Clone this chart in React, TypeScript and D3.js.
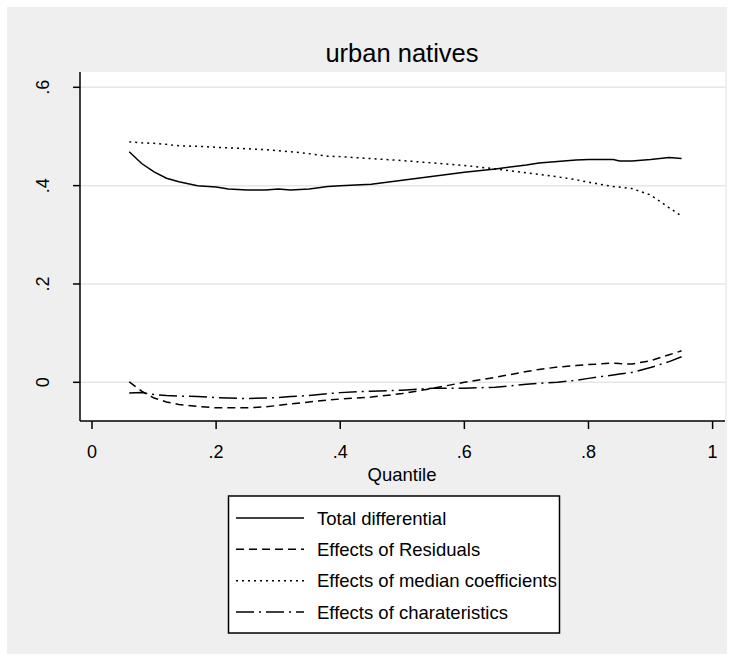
import React, { useRef, useEffect } from "react";
import * as d3 from "d3";

const quantiles = [
  0.06, 0.08, 0.1, 0.12, 0.14, 0.17, 0.2, 0.22, 0.25, 0.28, 0.3, 0.32, 0.35, 0.38, 0.4, 0.45,
  0.5, 0.55, 0.6, 0.65, 0.7, 0.72, 0.75, 0.78, 0.8, 0.84, 0.85, 0.87, 0.9, 0.93, 0.95,
];

const totalDiff = [
  0.469, 0.445, 0.428, 0.415, 0.408, 0.4, 0.397, 0.393, 0.391, 0.391, 0.393, 0.391, 0.393, 0.398,
  0.4, 0.403, 0.411, 0.419, 0.427, 0.434, 0.442, 0.446, 0.449, 0.452, 0.453, 0.453, 0.45, 0.45,
  0.453, 0.457, 0.455,
];

const residuals = [
  0.001, -0.018, -0.032, -0.04, -0.045, -0.049, -0.052, -0.052, -0.052, -0.05, -0.047, -0.044,
  -0.04, -0.036, -0.034, -0.03, -0.023, -0.012, 0.0, 0.01, 0.022, 0.026, 0.031, 0.034, 0.036,
  0.039, 0.038, 0.037, 0.044, 0.056, 0.064,
];

const medianCoef = [
  0.489, 0.487, 0.486, 0.484, 0.481, 0.48, 0.478, 0.477, 0.475, 0.473, 0.471, 0.469, 0.465, 0.46,
  0.459, 0.455, 0.451, 0.446, 0.441, 0.434, 0.426, 0.423, 0.418, 0.412, 0.407, 0.398, 0.397,
  0.394, 0.381, 0.355, 0.338,
];

const characteristics = [
  -0.022, -0.021, -0.025, -0.027, -0.028, -0.029, -0.031, -0.032, -0.033, -0.032, -0.031, -0.029,
  -0.027, -0.023, -0.021, -0.018, -0.016, -0.012, -0.012, -0.01, -0.004, -0.002, 0.0, 0.004,
  0.008, 0.015, 0.017, 0.02, 0.03, 0.042, 0.052,
];

const xTicks = [0, 0.2, 0.4, 0.6, 0.8, 1];
const xTickLabels = ["0", ".2", ".4", ".6", ".8", "1"];
const yTicks = [0, 0.2, 0.4, 0.6];
const yTickLabels = ["0", ".2", ".4", ".6"];

const seriesNames = [
  "Total differential",
  "Effects of Residuals",
  "Effects of median coefficients",
  "Effects of charateristics",
];
const seriesValues = [totalDiff, residuals, medianCoef, characteristics];
const dashes = [null, "8,5", "2,4", "18,5,2,5"];

const FONT = "'Liberation Sans', Arial, sans-serif";

const App = () => {
  const svgRef = useRef<SVGSVGElement>(null);

  useEffect(() => {
    const width = 734;
    const height = 661;
    const plot = { left: 80, right: 725, top: 72, bottom: 421 };

    const svg = d3.select(svgRef.current).attr("width", width).attr("height", height).html("");

    svg.append("rect").attr("width", width).attr("height", height).attr("fill", "#fff");
    svg
      .append("rect")
      .attr("x", 7)
      .attr("y", 7)
      .attr("width", width - 14)
      .attr("height", height - 14)
      .attr("fill", "#efefef");

    svg
      .append("rect")
      .attr("x", plot.left)
      .attr("y", plot.top)
      .attr("width", plot.right - plot.left)
      .attr("height", plot.bottom - plot.top)
      .attr("fill", "#fff");

    const x = d3.scaleLinear().domain([0, 1]).range([92, 712.6]);
    const y = d3.scaleLinear().domain([0, 0.6]).range([382.3, 87.3]);

    // gridlines
    svg
      .selectAll(".grid")
      .data(yTicks)
      .join("line")
      .attr("x1", plot.left)
      .attr("x2", plot.right)
      .attr("y1", (d) => y(d))
      .attr("y2", (d) => y(d))
      .attr("stroke", "#e6e6e6")
      .attr("stroke-width", 1.5);

    // curves
    const line = d3
      .line<number>()
      .x((_, i) => x(quantiles[i]))
      .y((d) => y(d));

    seriesValues.forEach((vals, k) => {
      svg
        .append("path")
        .attr("d", line(vals))
        .attr("fill", "none")
        .attr("stroke", "#000")
        .attr("stroke-width", 1.5)
        .attr("stroke-dasharray", dashes[k]);
    });

    // axes
    svg
      .append("line")
      .attr("x1", plot.left)
      .attr("x2", plot.left)
      .attr("y1", plot.top)
      .attr("y2", plot.bottom)
      .attr("stroke", "#000")
      .attr("stroke-width", 1.5);
    svg
      .append("line")
      .attr("x1", plot.left)
      .attr("x2", plot.right)
      .attr("y1", plot.bottom)
      .attr("y2", plot.bottom)
      .attr("stroke", "#000")
      .attr("stroke-width", 1.5);

    yTicks.forEach((t, i) => {
      svg
        .append("line")
        .attr("x1", plot.left - 7)
        .attr("x2", plot.left)
        .attr("y1", y(t))
        .attr("y2", y(t))
        .attr("stroke", "#000")
        .attr("stroke-width", 1.5);
      svg
        .append("text")
        .attr("transform", `translate(49,${y(t)}) rotate(-90)`)
        .attr("text-anchor", "middle")
        .attr("font-family", FONT)
        .attr("font-size", 18)
        .text(yTickLabels[i]);
    });

    xTicks.forEach((t, i) => {
      svg
        .append("line")
        .attr("x1", x(t))
        .attr("x2", x(t))
        .attr("y1", plot.bottom)
        .attr("y2", plot.bottom + 8)
        .attr("stroke", "#000")
        .attr("stroke-width", 1.5);
      svg
        .append("text")
        .attr("x", x(t))
        .attr("y", 458)
        .attr("text-anchor", "middle")
        .attr("font-family", FONT)
        .attr("font-size", 18)
        .text(xTickLabels[i]);
    });

    svg
      .append("text")
      .attr("x", 402)
      .attr("y", 481)
      .attr("text-anchor", "middle")
      .attr("font-family", FONT)
      .attr("font-size", 18.5)
      .text("Quantile");

    svg
      .append("text")
      .attr("x", 402)
      .attr("y", 62)
      .attr("text-anchor", "middle")
      .attr("font-family", FONT)
      .attr("font-size", 25.5)
      .text("urban natives");

    // legend
    const lg = svg.append("g");
    lg.append("rect")
      .attr("x", 228.5)
      .attr("y", 496)
      .attr("width", 331)
      .attr("height", 137)
      .attr("fill", "#fff")
      .attr("stroke", "#000")
      .attr("stroke-width", 1.5);

    const rowY = d3.scaleLinear().domain([0, 3]).range([518, 612]);
    seriesNames.forEach((name, k) => {
      lg.append("line")
        .attr("x1", 236)
        .attr("x2", 304)
        .attr("y1", rowY(k))
        .attr("y2", rowY(k))
        .attr("stroke", "#000")
        .attr("stroke-width", 1.5)
        .attr("stroke-dasharray", dashes[k]);
      lg.append("text")
        .attr("x", 317)
        .attr("y", rowY(k) + 6.5)
        .attr("font-family", FONT)
        .attr("font-size", 18.5)
        .text(name);
    });
  }, []);

  return (
    <>
      <style>{"body{margin:0}"}</style>
      <svg ref={svgRef} style={{ display: "block" }} />
    </>
  );
};

export default App;
